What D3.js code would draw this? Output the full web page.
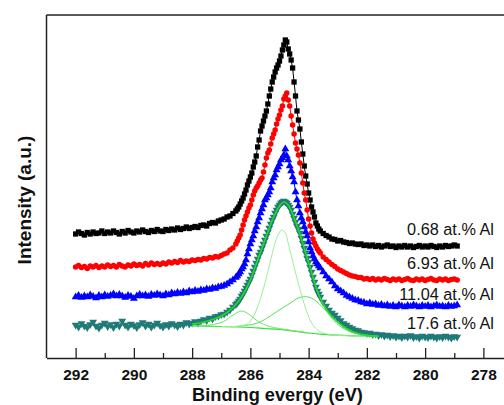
<!DOCTYPE html>
<html><head><meta charset="utf-8">
<script src="https://cdn.jsdelivr.net/npm/d3@7"></script>
<style>html,body{margin:0;padding:0;background:#fff;overflow:hidden}</style>
</head><body>
<svg id="chart" width="504" height="405"></svg>
<script>
// ---------- DATA ----------
const energy = [
292.0,291.9,291.8,291.7,291.6,291.5,291.4,291.3,291.2,291.1,
291.0,290.9,290.8,290.7,290.6,290.5,290.4,290.3,290.2,290.1,
290.0,289.9,289.8,289.7,289.6,289.5,289.4,289.3,289.2,289.1,
289.0,288.9,288.8,288.7,288.6,288.5,288.4,288.3,288.2,288.1,
288.0,287.9,287.8,287.7,287.6,287.5,287.4,287.3,287.2,287.1,
287.0,286.9,286.8,286.7,286.6,286.5,
286.45,286.40,286.35,286.30,286.25,286.20,286.15,286.10,286.05,286.00,
285.95,285.90,285.85,285.80,285.75,285.70,285.65,285.60,285.55,285.50,
285.45,285.40,285.35,285.30,285.25,285.20,285.15,285.10,285.05,285.00,
284.95,284.90,284.85,284.80,284.75,284.70,284.65,284.60,284.55,284.50,
284.45,284.40,284.35,284.30,284.25,284.20,284.15,284.10,284.05,284.00,
283.95,283.90,283.85,283.80,283.75,283.70,283.65,283.60,
283.5,283.4,283.3,283.2,283.1,283.0,282.9,282.8,282.7,282.6,
282.5,282.4,282.3,282.2,282.1,282.0,281.9,281.8,281.7,281.6,
281.5,281.4,281.3,281.2,281.1,281.0,280.9,280.8,280.7,280.6,
280.5,280.4,280.3,280.2,280.1,280.0,279.9,279.8,279.7,279.6,
279.5,279.4,279.3,279.2,279.1,279.0,278.9];

const al068 = [
124,126,124.5,123,125.5,124,126,124.5,125,127,
124.5,126,125,127,125.5,124,126.5,125,127.5,126,
125,127,126,128,126.5,125.5,127.5,126.5,128.5,127,
126.5,128.5,127.5,129,128,130,128.5,129.5,131,129.5,
130.5,131.5,130.5,132.5,133,132,134.5,135.5,135,137,
138,139,141,142,144.5,147,
149,151,154,157,160,164,168,173,177,181,
185,191,196,202,211,218,227,232,237,242,
247,254,262,269,276,281,286,290,293,297,
302,308,313,318,316,309,304,298,290,276,
262,247,238,229,216,204,192,182,174,165,
158,151,146,141,135,132,129,127,
124.5,122.5,121,119,118.5,117,117.5,116,115.5,114.5,
115,114,113.5,114,112.5,113,112,113,111.5,112.5,
111,112,113,111.5,112,110.5,112,111,112.5,111,
112,110.5,111.5,112.5,111,112,111,112.5,111.5,110.5,
112,111,112.5,111.5,112,113,112];

const al693 = [
91,92.5,90.5,91.5,89.5,92,91,92.5,90.5,92,
91,93,91.5,92.5,91,93.5,92,91,93,92,
94,92.5,93.5,92,94.5,93,95,93.5,94.5,93.5,
95,94,96,95,96.5,95.5,97.5,96,97,96.5,
98,97.5,98.5,98,99.5,99,100.5,100,101.5,101,
102.5,104,105,108,110,114,
117,120,123,128,133,138,142,146,150,153,
158,163,167,170,172,175,178,180,186,193,
200,205,208,214,220,224,228,234,239,243,
248,252,259,262,265,258,252,242,233,224,
215,209,203,195,185,175,165,158,148,139,
132,125,119,115,112,109,107,105,
101,98.5,96,93.5,91.5,89,87.5,86,84.5,83,
82,81.5,80.5,80.5,79,79.5,78.5,79.5,78,79,
78,79.5,78.5,77.5,79,78,79,77.5,78.5,79.5,
78,77.5,79,78,79,77.5,78.5,79.5,78,77.5,
79,78,79,77.5,78.5,79,78];

const al1104 = [
61,62.5,60.5,62,61,63,61.5,60,62.5,61,
63,61.5,62.5,64,62,63.5,62,60.5,62.5,61.5,
59.5,62,63.5,62,63,61.5,63.5,62.5,64,63,
62,64,63,65,64,65.5,64.5,66,65,67,
66,67.5,66.5,68,67.5,69,68.5,70,69.5,71,
71.5,72.5,74,76,78,80.5,
82,84,86,89,91,94,98,104,109,114,
118,122,127,131,136,140,145,149,153,158,
160,163,166,170,176,180,183,188,191,194,
198,200,203,209,202,198,192,187,181,176,
166,158,152,145,140,136,131,126,122,116,
110,106,102,99,96,94,92,90,
86,82,79,76,72,69,67,65,62.5,61,
59.5,58,57.5,56,55.5,54,55,53.5,54,52.5,
53.5,52,53,51.5,52.5,51,53,52,51,52.5,
51.5,53,52,51,52.5,51.5,52.5,51,52,53,
51.5,52,51,52.5,51.5,52,53];

const al176 = [
33,31,34.5,32,30.5,33.5,36,32,30,33,
35,31.5,33.5,30.5,34,32,37,33,31,34,
32.5,30.5,33.5,35.5,32,34,31,33,35,32.5,
31,33.5,32,34.5,33,31.5,34,33,35.5,34,
35,36.5,35,37,38.5,37.5,40,39,41.5,42,
43.5,44,46,48,51,53.5,
55,57,59,62,64,67,70,73,76,79,
83,87,91,95,99,103,106,110,114,118,
122,126,130,134,138,141,145,148,151,153,
155,156,157,156,155,153,151,148,144,140,
136,132,129,125,120,115,110,105,100,96,
91,86,81,76,71,67,64,61,
56,52,48,45,43,40,37.5,34.5,33,31,
29.5,28,27.5,26,25.5,24.5,25,23.5,24,22.5,
23.5,22,23,21.5,22.5,21,22,20.5,22,21,
22.5,20.5,21.5,20,22,21,20.5,22,21,20,
21.5,20.5,22,21,20,21.5,21];

// peak fit of the 17.6 at.% Al spectrum
const envEnergy = [288.0,287.6,287.2,287.0,286.8,286.6,286.4,286.2,286.0,285.8,285.6,285.4,285.2,285.0,284.85,284.7,284.5,284.3,284.1,283.9,283.7,283.5,283.3,283.1,282.9,282.7,282.5,282.3,282.0,281.6];
const envValues = [34,36,39.5,42,45.5,50.5,57,66,78,94,110,126,141,152,156,153,140,124,105,86,67,54,45,38.5,33.5,29.5,26.5,24.5,22.5,21.5];
const bgEnergy = [288.0,287.0,286.0,285.5,285.0,284.5,284.0,283.5,283.0,282.5,282.0,281.6];
const bgValues = [32,31.5,30.5,29.5,28.5,26.8,25,23.7,22.8,22.2,21.8,21.5];
const c1Energy = [287.0,286.6,286.36,286.07,285.84,285.67,285.5,285.33,285.155,285.05,284.924,284.8,284.7,284.53,284.355,284.12,283.89,283.61,283.15,282.6,282.0];
const c1Values = [31.5,31.5,32,34.7,44.7,58,74.7,94.7,114.7,123,128,125,114.7,94.7,74.7,51.3,34.7,26.3,23,22.2,21.8];
const c2Energy = [287.5,286.5,285.78,285.44,285.1,284.64,284.4,284.18,283.95,283.72,283.38,283.04,282.58,282.01,281.6];
const c2Values = [31.8,31.5,34.7,39.7,46.3,54.7,59.5,61.3,60.5,56.3,46.3,34.7,26.3,23,22];
const c3Energy = [288.0,287.39,286.93,286.59,286.3,286.01,285.73,285.33,284.64,284.0];
const c3Values = [32,33,36.3,43,47,43,36.3,31.5,27.8,25.2];

const seriesLabels = ["0.68 at.% Al","6.93 at.% Al","11.04 at.% Al","17.6 at.% Al"];
const xTicks = [292,290,288,286,284,282,280,278];
const xMinorTicks = [291,289,287,285,283,281,279];

// ---------- DRAWING ----------
const svg = d3.select("#chart");
const L = 46.5, T = 15, B = 358, R = 512.5;
const x = d3.scaleLinear().domain([293, 277]).range([L, R]);
const y = d3.scaleLinear().domain([0, 343]).range([B, T]);

const series = [
  {vals: al068, color: "#000000", sym: d3.symbolSquare, size: 28, rot: 0},
  {vals: al693, color: "#ff0000", sym: d3.symbolCircle, size: 24, rot: 0},
  {vals: al1104, color: "#0000ff", sym: d3.symbolTriangle, size: 27, rot: 0},
  {vals: al176, color: "#1f7a78", sym: d3.symbolTriangle, size: 27, rot: 180}
];

const line = d3.line().x(d => x(d[0])).y(d => y(d[1]));
series.forEach(s => {
  const pts = energy.map((e, i) => [e, s.vals[i]]);
  const g = svg.append("g");
  g.append("path").attr("d", line(pts)).attr("fill", "none")
    .attr("stroke", s.color).attr("stroke-width", 1);
  const sym = d3.symbol().type(s.sym).size(s.size)();
  g.selectAll("path.m").data(pts).enter().append("path").attr("class", "m")
    .attr("d", sym).attr("fill", s.color)
    .attr("transform", d => `translate(${x(d[0])},${y(d[1])}) rotate(${s.rot})`);
});

// fit curves
const fitLine = d3.line().curve(d3.curveCatmullRom).x(d => x(d[0])).y(d => y(d[1]));
const fits = [
  {e: bgEnergy, v: bgValues, c: "#33dd33", w: 1.2},
  {e: c3Energy, v: c3Values, c: "#66e866", w: 1},
  {e: c2Energy, v: c2Values, c: "#55e055", w: 1},
  {e: c1Energy, v: c1Values, c: "#99f099", w: 1},
  {e: envEnergy, v: envValues, c: "#22dd22", w: 1.6}
];
fits.forEach(f => {
  svg.append("path").attr("d", fitLine(f.e.map((e, i) => [e, f.v[i]])))
    .attr("fill", "none").attr("stroke", f.c).attr("stroke-width", f.w);
});

// frame
const frameColor = "#222";
svg.append("line").attr("x1", L).attr("x2", L).attr("y1", T).attr("y2", B)
  .attr("stroke", frameColor).attr("stroke-width", 1.5);
svg.append("line").attr("x1", L).attr("x2", R).attr("y1", T).attr("y2", T)
  .attr("stroke", frameColor).attr("stroke-width", 1.5);
svg.append("line").attr("x1", R).attr("x2", R).attr("y1", T).attr("y2", B)
  .attr("stroke", frameColor).attr("stroke-width", 1.5);

// x axis
const ax = svg.append("g").attr("transform", `translate(0,${B})`)
  .call(d3.axisBottom(x).tickValues(xTicks).tickFormat(d3.format("d"))
    .tickSizeInner(-10).tickSizeOuter(0));
ax.select(".domain").attr("stroke", frameColor).attr("stroke-width", 1.5);
ax.selectAll(".tick line").attr("stroke", frameColor).attr("stroke-width", 1.3);
ax.selectAll(".tick text").attr("y", 22).attr("dy", 0)
  .style("font-family", "'Liberation Sans', Arial, sans-serif")
  .style("font-weight", "bold").style("font-size", "15.5px").attr("fill", "#111");
const axm = svg.append("g").attr("transform", `translate(0,${B})`)
  .call(d3.axisBottom(x).tickValues(xMinorTicks).tickFormat("")
    .tickSizeInner(-5).tickSizeOuter(0));
axm.select(".domain").remove();
axm.selectAll(".tick line").attr("stroke", frameColor).attr("stroke-width", 1.3);

// axis titles
svg.append("text").attr("x", 277.5).attr("y", 400.5).attr("text-anchor", "middle")
  .style("font-family", "'Liberation Sans', Arial, sans-serif")
  .style("font-weight", "bold").style("font-size", "18.2px").attr("fill", "#111")
  .text("Binding evergy (eV)");
svg.append("text").attr("transform", "translate(30.5,200) rotate(-90)")
  .attr("text-anchor", "middle")
  .style("font-family", "'Liberation Sans', Arial, sans-serif")
  .style("font-weight", "bold").style("font-size", "19px").attr("fill", "#111")
  .text("Intensity (a.u.)");

// series labels
const labelY = [235, 268.5, 300, 328.5];
seriesLabels.forEach((t, i) => {
  svg.append("text").attr("x", 494).attr("y", labelY[i]).attr("text-anchor", "end")
    .style("font-family", "'Liberation Sans', Arial, sans-serif")
    .style("font-size", "16.3px").attr("fill", "#111").text(t);
});
</script>
</body></html>
